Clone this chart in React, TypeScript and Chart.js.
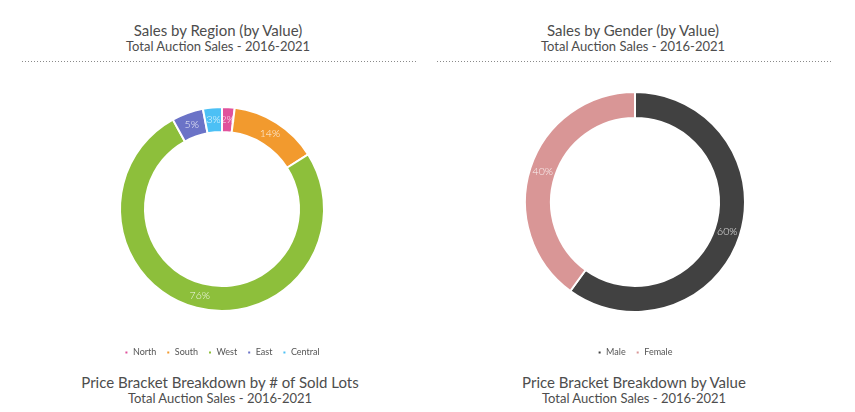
import React, { useEffect, useRef } from "react";
import { Chart, registerables } from "chart.js";

Chart.register(...registerables);

const FONT = "Lato, 'Open Sans', sans-serif";

const regionLabels = ["North", "South", "West", "East", "Central"];
const regionValues = [2, 14, 76, 5, 3];
const regionColors = ["#e0529c", "#f29a2e", "#8dbf3b", "#6b73c7", "#4cc0f5"];

const genderLabels = ["Male", "Female"];
const genderValues = [60, 40];
const genderColors = ["#414141", "#d99696"];

const pctLabels = {
  id: "pctLabels",
  afterDatasetsDraw(chart: any) {
    const ctx = chart.ctx;
    const meta = chart.getDatasetMeta(0);
    const data = chart.data.datasets[0].data as number[];
    const total = data.reduce((a: number, b: number) => a + b, 0);
    ctx.save();
    ctx.font = `300 10.5px ${FONT}`;
    ctx.fillStyle = "rgba(255,255,255,0.88)";
    ctx.textAlign = "center";
    ctx.textBaseline = "middle";
    meta.data.forEach((arc: any, i: number) => {
      const p = arc.tooltipPosition(true);
      ctx.fillText(Math.round((data[i] / total) * 100) + "%", p.x, p.y);
    });
    ctx.restore();
  },
};

type DonutProps = {
  labels: string[];
  values: number[];
  colors: string[];
  radius: number;
  cutout: string;
  padTop: number;
  left: number;
};

function Donut({ labels, values, colors, radius, cutout, padTop, left }: DonutProps) {
  const ref = useRef<HTMLCanvasElement>(null);
  useEffect(() => {
    if (!ref.current) return;
    const chart = new Chart(ref.current, {
      type: "doughnut",
      data: {
        labels,
        datasets: [
          {
            data: values,
            backgroundColor: colors,
            borderColor: "#ffffff",
            borderWidth: 2,
          },
        ],
      },
      options: {
        animation: false,
        responsive: false,
        radius,
        cutout,
        layout: { padding: { top: padTop } },
        plugins: {
          tooltip: { enabled: false },
          legend: {
            position: "bottom",
            labels: {
              boxWidth: 4,
              boxHeight: 4,
              padding: 10,
              color: "#555555",
              font: { size: 9, family: FONT },
            },
          },
        },
      } as any,
      plugins: [pctLabels],
    });
    return () => chart.destroy();
  }, []);
  return (
    <canvas
      ref={ref}
      width={400}
      height={301}
      style={{ position: "absolute", left, top: 66, width: 400, height: 301 }}
    />
  );
}

const titleStyle = (left: number, top: number, size: number): React.CSSProperties => ({
  position: "absolute",
  left,
  top,
  width: 400,
  textAlign: "center",
  fontFamily: FONT,
  fontSize: size,
  color: "#4d4d4d",
  lineHeight: `${size + 2}px`,
  whiteSpace: "nowrap",
});

const dotStyle = (left: number, width: number): React.CSSProperties => ({
  position: "absolute",
  left,
  top: 61,
  width,
  height: 1,
  backgroundImage: "repeating-linear-gradient(to right, #8a8a8a 0px, #8a8a8a 1px, transparent 1px, transparent 3px)",
});

export default function App() {
  return (
    <div
      style={{
        position: "fixed",
        left: 0,
        top: 0,
        width: 855,
        height: 412,
        background: "#ffffff",
        overflow: "hidden",
      }}
    >
      <div style={titleStyle(18, 22, 15)}>Sales by Region (by Value)</div>
      <div style={titleStyle(18, 39, 13)}>Total Auction Sales - 2016-2021</div>
      <div style={dotStyle(22, 396)} />
      <div style={titleStyle(433, 22, 15)}>Sales by Gender (by Value)</div>
      <div style={titleStyle(433, 39, 13)}>Total Auction Sales - 2016-2021</div>
      <div style={dotStyle(437, 396)} />

      <Donut
        labels={regionLabels}
        values={regionValues}
        colors={regionColors}
        radius={102}
        cutout="75.5%"
        padTop={14}
        left={22}
      />
      <Donut
        labels={genderLabels}
        values={genderValues}
        colors={genderColors}
        radius={110}
        cutout="76.4%"
        padTop={0}
        left={435}
      />

      <div style={titleStyle(20, 374, 15)}>Price Bracket Breakdown by # of Sold Lots</div>
      <div style={titleStyle(20, 391, 13)}>Total Auction Sales - 2016-2021</div>
      <div style={titleStyle(434, 374, 15)}>Price Bracket Breakdown by Value</div>
      <div style={titleStyle(434, 391, 13)}>Total Auction Sales - 2016-2021</div>
    </div>
  );
}
